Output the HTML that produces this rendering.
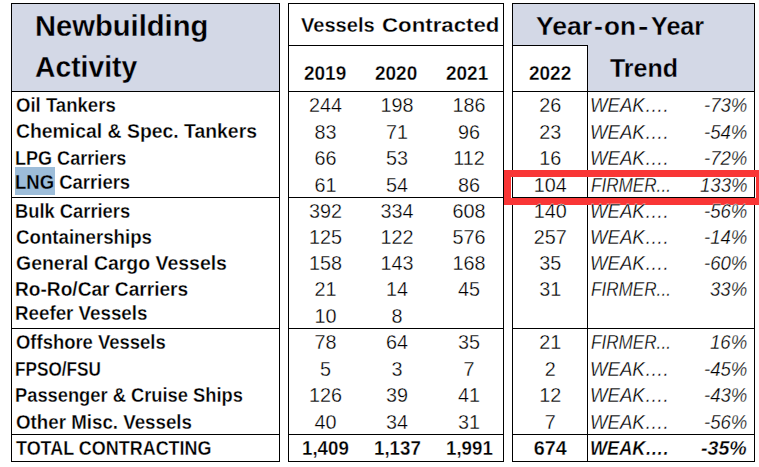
<!DOCTYPE html>
<html lang="en"><head><meta charset="utf-8"><title>Newbuilding Activity</title>
<style>
html,body{margin:0;padding:0;background:#fff;}
body{width:759px;height:467px;position:relative;overflow:hidden;font-family:"Liberation Sans", sans-serif;color:#000;}
.b{position:absolute;}
.t{position:absolute;white-space:nowrap;line-height:1;transform-origin:0 0;}
</style></head><body>
<div class="b" style="left:12px;top:4px;width:267px;height:87px;background:#D3D8E6;"></div>
<div class="b" style="left:513px;top:4px;width:241px;height:87px;background:#D3D8E6;"></div>
<div class="b" style="left:513px;top:46px;width:74px;height:45px;background:#fff;"></div>
<div class="b" style="left:15px;top:167px;width:40px;height:28px;background:#9DBDD9;"></div>
<div class="b" style="left:11px;top:3px;width:1px;height:459px;background:#000;"></div>
<div class="b" style="left:279px;top:3px;width:1px;height:459px;background:#000;"></div>
<div class="b" style="left:11px;top:3px;width:269px;height:1px;background:#000;"></div>
<div class="b" style="left:11px;top:91px;width:269px;height:1px;background:#000;"></div>
<div class="b" style="left:11px;top:197px;width:269px;height:1px;background:#000;"></div>
<div class="b" style="left:11px;top:328px;width:269px;height:1px;background:#000;"></div>
<div class="b" style="left:11px;top:434px;width:269px;height:1px;background:#000;"></div>
<div class="b" style="left:11px;top:461px;width:269px;height:1px;background:#000;"></div>
<div class="b" style="left:288px;top:3px;width:1px;height:459px;background:#000;"></div>
<div class="b" style="left:503px;top:3px;width:1px;height:459px;background:#000;"></div>
<div class="b" style="left:288px;top:3px;width:216px;height:1px;background:#000;"></div>
<div class="b" style="left:288px;top:45px;width:216px;height:1px;background:#000;"></div>
<div class="b" style="left:288px;top:91px;width:216px;height:1px;background:#000;"></div>
<div class="b" style="left:288px;top:197px;width:216px;height:1px;background:#000;"></div>
<div class="b" style="left:288px;top:328px;width:216px;height:1px;background:#000;"></div>
<div class="b" style="left:288px;top:434px;width:216px;height:1px;background:#000;"></div>
<div class="b" style="left:288px;top:461px;width:216px;height:1px;background:#000;"></div>
<div class="b" style="left:512px;top:3px;width:1px;height:459px;background:#000;"></div>
<div class="b" style="left:754px;top:3px;width:1px;height:459px;background:#000;"></div>
<div class="b" style="left:587px;top:45px;width:1px;height:417px;background:#000;"></div>
<div class="b" style="left:512px;top:3px;width:243px;height:1px;background:#000;"></div>
<div class="b" style="left:512px;top:91px;width:243px;height:1px;background:#000;"></div>
<div class="b" style="left:512px;top:197px;width:243px;height:1px;background:#000;"></div>
<div class="b" style="left:512px;top:328px;width:243px;height:1px;background:#000;"></div>
<div class="b" style="left:512px;top:434px;width:243px;height:1px;background:#000;"></div>
<div class="b" style="left:512px;top:461px;width:243px;height:1px;background:#000;"></div>
<div class="b" style="left:512px;top:45px;width:76px;height:1px;background:#000;"></div>
<div class="b" style="left:504px;top:170px;width:259px;height:35px;box-sizing:border-box;border:7px solid #F93636;"></div>
<span class="t" style="left:34.80px;top:12px;font-size:29px;font-weight:700;transform:scaleX(1.0050);-webkit-text-stroke:0.3px #D3D8E6;">Newbuilding</span>
<span class="t" style="left:34.60px;top:53px;font-size:29px;font-weight:700;transform:scaleX(0.9749);-webkit-text-stroke:0.3px #D3D8E6;">Activity</span>
<span class="t" style="left:300.60px;top:15px;font-size:20px;font-weight:700;transform:scaleX(1.0029);-webkit-text-stroke:0.3px #fff;">Vessels</span>
<span class="t" style="left:382.20px;top:15px;font-size:20px;font-weight:700;transform:scaleX(1.1126);-webkit-text-stroke:0.3px #fff;">Contracted</span>
<span class="t" style="left:303.68px;top:64px;font-size:19.8px;font-weight:700;transform:scaleX(0.9600);-webkit-text-stroke:0.3px #fff;">2019</span>
<span class="t" style="left:375.38px;top:64px;font-size:19.8px;font-weight:700;transform:scaleX(0.9600);-webkit-text-stroke:0.3px #fff;">2020</span>
<span class="t" style="left:446.38px;top:64px;font-size:19.8px;font-weight:700;transform:scaleX(0.9600);-webkit-text-stroke:0.3px #fff;">2021</span>
<span class="t" style="left:528.68px;top:64px;font-size:19.8px;font-weight:700;transform:scaleX(0.9600);-webkit-text-stroke:0.3px #fff;">2022</span>
<span class="t" style="left:535.50px;top:13px;font-size:26px;font-weight:700;transform:scaleX(1.0232);-webkit-text-stroke:0.3px #D3D8E6;">Year</span>
<span class="t" style="left:594.47px;top:13px;font-size:26px;font-weight:700;transform:scaleX(1.0286);-webkit-text-stroke:0.3px #D3D8E6;">-</span>
<span class="t" style="left:604.40px;top:13px;font-size:26px;font-weight:700;transform:scaleX(1.0040);-webkit-text-stroke:0.3px #D3D8E6;">on</span>
<span class="t" style="left:637.60px;top:13px;font-size:26px;font-weight:700;transform:scaleX(1.2000);-webkit-text-stroke:0.3px #D3D8E6;">-</span>
<span class="t" style="left:651.20px;top:13px;font-size:26px;font-weight:700;transform:scaleX(0.9667);-webkit-text-stroke:0.3px #D3D8E6;">Year</span>
<span class="t" style="left:610.20px;top:55px;font-size:26px;font-weight:700;transform:scaleX(0.9598);-webkit-text-stroke:0.3px #D3D8E6;">Trend</span>
<span class="t" style="left:15.90px;top:96px;font-size:19.8px;font-weight:700;transform:scaleX(0.9381);-webkit-text-stroke:0.3px #fff;">Oil Tankers</span>
<span class="t" style="left:308.90px;top:96px;font-size:19.8px;-webkit-text-stroke:0.3px #fff;">244</span>
<span class="t" style="left:380.50px;top:96px;font-size:19.8px;-webkit-text-stroke:0.3px #fff;">198</span>
<span class="t" style="left:452.50px;top:96px;font-size:19.8px;-webkit-text-stroke:0.3px #fff;">186</span>
<span class="t" style="left:539.20px;top:96px;font-size:19.8px;-webkit-text-stroke:0.3px #fff;">26</span>
<span class="t" style="left:590.26px;top:96px;font-size:19.8px;font-style:italic;transform:scaleX(0.9404);-webkit-text-stroke:0.3px #fff;">WEAK….</span>
<span class="t" style="left:703.95px;top:96px;font-size:19.8px;font-style:italic;transform:scaleX(0.9400);-webkit-text-stroke:0.3px #fff;">-73%</span>
<span class="t" style="left:15.90px;top:122px;font-size:19.8px;font-weight:700;transform:scaleX(0.9799);-webkit-text-stroke:0.3px #fff;">Chemical &amp; Spec. Tankers</span>
<span class="t" style="left:314.40px;top:123px;font-size:19.8px;-webkit-text-stroke:0.3px #fff;">83</span>
<span class="t" style="left:386.00px;top:123px;font-size:19.8px;-webkit-text-stroke:0.3px #fff;">71</span>
<span class="t" style="left:458.00px;top:123px;font-size:19.8px;-webkit-text-stroke:0.3px #fff;">96</span>
<span class="t" style="left:539.20px;top:123px;font-size:19.8px;-webkit-text-stroke:0.3px #fff;">23</span>
<span class="t" style="left:590.26px;top:123px;font-size:19.8px;font-style:italic;transform:scaleX(0.9404);-webkit-text-stroke:0.3px #fff;">WEAK….</span>
<span class="t" style="left:703.95px;top:123px;font-size:19.8px;font-style:italic;transform:scaleX(0.9400);-webkit-text-stroke:0.3px #fff;">-54%</span>
<span class="t" style="left:14.99px;top:149px;font-size:19.8px;font-weight:700;transform:scaleX(0.9125);-webkit-text-stroke:0.3px #fff;">LPG Carriers</span>
<span class="t" style="left:314.40px;top:149px;font-size:19.8px;-webkit-text-stroke:0.3px #fff;">66</span>
<span class="t" style="left:386.00px;top:149px;font-size:19.8px;-webkit-text-stroke:0.3px #fff;">53</span>
<span class="t" style="left:453.23px;top:149px;font-size:19.8px;-webkit-text-stroke:0.3px #fff;">112</span>
<span class="t" style="left:539.20px;top:149px;font-size:19.8px;-webkit-text-stroke:0.3px #fff;">16</span>
<span class="t" style="left:590.26px;top:149px;font-size:19.8px;font-style:italic;transform:scaleX(0.9404);-webkit-text-stroke:0.3px #fff;">WEAK….</span>
<span class="t" style="left:703.95px;top:149px;font-size:19.8px;font-style:italic;transform:scaleX(0.9400);-webkit-text-stroke:0.3px #fff;">-72%</span>
<span class="t" style="left:14.96px;top:173px;font-size:19.8px;font-weight:700;transform:scaleX(0.9351);-webkit-text-stroke:0.3px #fff;"><span style="-webkit-text-stroke-color:#9DBDD9">LNG</span> Carriers</span>
<span class="t" style="left:314.40px;top:176px;font-size:19.8px;-webkit-text-stroke:0.3px #fff;">61</span>
<span class="t" style="left:386.00px;top:176px;font-size:19.8px;-webkit-text-stroke:0.3px #fff;">54</span>
<span class="t" style="left:458.00px;top:176px;font-size:19.8px;-webkit-text-stroke:0.3px #fff;">86</span>
<span class="t" style="left:533.70px;top:176px;font-size:19.8px;-webkit-text-stroke:0.3px #fff;">104</span>
<span class="t" style="left:591.20px;top:176px;font-size:19.8px;font-style:italic;transform:scaleX(0.8655);-webkit-text-stroke:0.3px #fff;">FIRMER...</span>
<span class="t" style="left:699.80px;top:176px;font-size:19.8px;font-style:italic;transform:scaleX(0.9400);-webkit-text-stroke:0.3px #fff;">133%</span>
<span class="t" style="left:14.97px;top:202px;font-size:19.8px;font-weight:700;transform:scaleX(0.9266);-webkit-text-stroke:0.3px #fff;">Bulk Carriers</span>
<span class="t" style="left:308.90px;top:202px;font-size:19.8px;-webkit-text-stroke:0.3px #fff;">392</span>
<span class="t" style="left:380.50px;top:202px;font-size:19.8px;-webkit-text-stroke:0.3px #fff;">334</span>
<span class="t" style="left:452.50px;top:202px;font-size:19.8px;-webkit-text-stroke:0.3px #fff;">608</span>
<span class="t" style="left:533.70px;top:202px;font-size:19.8px;-webkit-text-stroke:0.3px #fff;">140</span>
<span class="t" style="left:590.26px;top:202px;font-size:19.8px;font-style:italic;transform:scaleX(0.9404);-webkit-text-stroke:0.3px #fff;">WEAK….</span>
<span class="t" style="left:703.95px;top:202px;font-size:19.8px;font-style:italic;transform:scaleX(0.9400);-webkit-text-stroke:0.3px #fff;">-56%</span>
<span class="t" style="left:15.90px;top:228px;font-size:19.8px;font-weight:700;transform:scaleX(0.9442);-webkit-text-stroke:0.3px #fff;">Containerships</span>
<span class="t" style="left:308.90px;top:228px;font-size:19.8px;-webkit-text-stroke:0.3px #fff;">125</span>
<span class="t" style="left:380.50px;top:228px;font-size:19.8px;-webkit-text-stroke:0.3px #fff;">122</span>
<span class="t" style="left:452.50px;top:228px;font-size:19.8px;-webkit-text-stroke:0.3px #fff;">576</span>
<span class="t" style="left:533.70px;top:228px;font-size:19.8px;-webkit-text-stroke:0.3px #fff;">257</span>
<span class="t" style="left:590.26px;top:228px;font-size:19.8px;font-style:italic;transform:scaleX(0.9404);-webkit-text-stroke:0.3px #fff;">WEAK….</span>
<span class="t" style="left:703.95px;top:228px;font-size:19.8px;font-style:italic;transform:scaleX(0.9400);-webkit-text-stroke:0.3px #fff;">-14%</span>
<span class="t" style="left:15.90px;top:254px;font-size:19.8px;font-weight:700;transform:scaleX(0.9838);-webkit-text-stroke:0.3px #fff;">General Cargo Vessels</span>
<span class="t" style="left:308.90px;top:254px;font-size:19.8px;-webkit-text-stroke:0.3px #fff;">158</span>
<span class="t" style="left:380.50px;top:254px;font-size:19.8px;-webkit-text-stroke:0.3px #fff;">143</span>
<span class="t" style="left:452.50px;top:254px;font-size:19.8px;-webkit-text-stroke:0.3px #fff;">168</span>
<span class="t" style="left:539.20px;top:254px;font-size:19.8px;-webkit-text-stroke:0.3px #fff;">35</span>
<span class="t" style="left:590.26px;top:254px;font-size:19.8px;font-style:italic;transform:scaleX(0.9404);-webkit-text-stroke:0.3px #fff;">WEAK….</span>
<span class="t" style="left:703.95px;top:254px;font-size:19.8px;font-style:italic;transform:scaleX(0.9400);-webkit-text-stroke:0.3px #fff;">-60%</span>
<span class="t" style="left:14.93px;top:280px;font-size:19.8px;font-weight:700;transform:scaleX(0.9664);-webkit-text-stroke:0.3px #fff;">Ro-Ro/Car Carriers</span>
<span class="t" style="left:314.40px;top:280px;font-size:19.8px;-webkit-text-stroke:0.3px #fff;">21</span>
<span class="t" style="left:386.00px;top:280px;font-size:19.8px;-webkit-text-stroke:0.3px #fff;">14</span>
<span class="t" style="left:458.00px;top:280px;font-size:19.8px;-webkit-text-stroke:0.3px #fff;">45</span>
<span class="t" style="left:539.20px;top:280px;font-size:19.8px;-webkit-text-stroke:0.3px #fff;">31</span>
<span class="t" style="left:591.20px;top:280px;font-size:19.8px;font-style:italic;transform:scaleX(0.8655);-webkit-text-stroke:0.3px #fff;">FIRMER...</span>
<span class="t" style="left:710.14px;top:280px;font-size:19.8px;font-style:italic;transform:scaleX(0.9400);-webkit-text-stroke:0.3px #fff;">33%</span>
<span class="t" style="left:14.95px;top:304px;font-size:19.8px;font-weight:700;transform:scaleX(0.9479);-webkit-text-stroke:0.3px #fff;">Reefer Vessels</span>
<span class="t" style="left:314.40px;top:307px;font-size:19.8px;-webkit-text-stroke:0.3px #fff;">10</span>
<span class="t" style="left:391.50px;top:307px;font-size:19.8px;-webkit-text-stroke:0.3px #fff;">8</span>
<span class="t" style="left:15.90px;top:333px;font-size:19.8px;font-weight:700;transform:scaleX(0.9325);-webkit-text-stroke:0.3px #fff;">Offshore Vessels</span>
<span class="t" style="left:314.40px;top:333px;font-size:19.8px;-webkit-text-stroke:0.3px #fff;">78</span>
<span class="t" style="left:386.00px;top:333px;font-size:19.8px;-webkit-text-stroke:0.3px #fff;">64</span>
<span class="t" style="left:458.00px;top:333px;font-size:19.8px;-webkit-text-stroke:0.3px #fff;">35</span>
<span class="t" style="left:539.20px;top:333px;font-size:19.8px;-webkit-text-stroke:0.3px #fff;">21</span>
<span class="t" style="left:591.20px;top:333px;font-size:19.8px;font-style:italic;transform:scaleX(0.8655);-webkit-text-stroke:0.3px #fff;">FIRMER...</span>
<span class="t" style="left:710.14px;top:333px;font-size:19.8px;font-style:italic;transform:scaleX(0.9400);-webkit-text-stroke:0.3px #fff;">16%</span>
<span class="t" style="left:15.03px;top:360px;font-size:19.8px;font-weight:700;transform:scaleX(0.8676);-webkit-text-stroke:0.3px #fff;">FPSO/FSU</span>
<span class="t" style="left:319.90px;top:360px;font-size:19.8px;-webkit-text-stroke:0.3px #fff;">5</span>
<span class="t" style="left:391.50px;top:360px;font-size:19.8px;-webkit-text-stroke:0.3px #fff;">3</span>
<span class="t" style="left:463.50px;top:360px;font-size:19.8px;-webkit-text-stroke:0.3px #fff;">7</span>
<span class="t" style="left:544.70px;top:360px;font-size:19.8px;-webkit-text-stroke:0.3px #fff;">2</span>
<span class="t" style="left:590.26px;top:360px;font-size:19.8px;font-style:italic;transform:scaleX(0.9404);-webkit-text-stroke:0.3px #fff;">WEAK….</span>
<span class="t" style="left:703.95px;top:360px;font-size:19.8px;font-style:italic;transform:scaleX(0.9400);-webkit-text-stroke:0.3px #fff;">-45%</span>
<span class="t" style="left:14.97px;top:386px;font-size:19.8px;font-weight:700;transform:scaleX(0.9253);-webkit-text-stroke:0.3px #fff;">Passenger &amp; Cruise Ships</span>
<span class="t" style="left:308.90px;top:386px;font-size:19.8px;-webkit-text-stroke:0.3px #fff;">126</span>
<span class="t" style="left:386.00px;top:386px;font-size:19.8px;-webkit-text-stroke:0.3px #fff;">39</span>
<span class="t" style="left:458.00px;top:386px;font-size:19.8px;-webkit-text-stroke:0.3px #fff;">41</span>
<span class="t" style="left:539.20px;top:386px;font-size:19.8px;-webkit-text-stroke:0.3px #fff;">12</span>
<span class="t" style="left:590.26px;top:386px;font-size:19.8px;font-style:italic;transform:scaleX(0.9404);-webkit-text-stroke:0.3px #fff;">WEAK….</span>
<span class="t" style="left:703.95px;top:386px;font-size:19.8px;font-style:italic;transform:scaleX(0.9400);-webkit-text-stroke:0.3px #fff;">-43%</span>
<span class="t" style="left:15.90px;top:413px;font-size:19.8px;font-weight:700;transform:scaleX(0.9469);-webkit-text-stroke:0.3px #fff;">Other Misc. Vessels</span>
<span class="t" style="left:314.40px;top:413px;font-size:19.8px;-webkit-text-stroke:0.3px #fff;">40</span>
<span class="t" style="left:386.00px;top:413px;font-size:19.8px;-webkit-text-stroke:0.3px #fff;">34</span>
<span class="t" style="left:458.00px;top:413px;font-size:19.8px;-webkit-text-stroke:0.3px #fff;">31</span>
<span class="t" style="left:544.70px;top:413px;font-size:19.8px;-webkit-text-stroke:0.3px #fff;">7</span>
<span class="t" style="left:590.26px;top:413px;font-size:19.8px;font-style:italic;transform:scaleX(0.9404);-webkit-text-stroke:0.3px #fff;">WEAK….</span>
<span class="t" style="left:703.95px;top:413px;font-size:19.8px;font-style:italic;transform:scaleX(0.9400);-webkit-text-stroke:0.3px #fff;">-56%</span>
<span class="t" style="left:15.90px;top:439px;font-size:19.8px;font-weight:700;transform:scaleX(0.9076);-webkit-text-stroke:0.3px #fff;">TOTAL CONTRACTING</span>
<span class="t" style="left:302.01px;top:439px;font-size:19.8px;font-weight:700;transform:scaleX(0.9450);-webkit-text-stroke:0.3px #fff;">1,409</span>
<span class="t" style="left:373.61px;top:439px;font-size:19.8px;font-weight:700;transform:scaleX(0.9450);-webkit-text-stroke:0.3px #fff;">1,137</span>
<span class="t" style="left:445.61px;top:439px;font-size:19.8px;font-weight:700;transform:scaleX(0.9450);-webkit-text-stroke:0.3px #fff;">1,991</span>
<span class="t" style="left:533.70px;top:439px;font-size:19.8px;font-weight:700;-webkit-text-stroke:0.3px #fff;">674</span>
<span class="t" style="left:590.28px;top:439px;font-size:19.8px;font-weight:700;font-style:italic;transform:scaleX(0.9157);-webkit-text-stroke:0.3px #fff;">WEAK….</span>
<span class="t" style="left:701.18px;top:439px;font-size:19.8px;font-weight:700;font-style:italic;transform:scaleX(0.9900);-webkit-text-stroke:0.3px #fff;">-35%</span>
</body></html>
